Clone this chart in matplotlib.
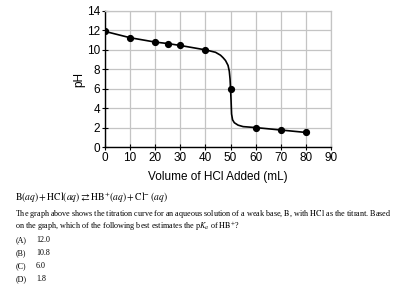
import matplotlib
matplotlib.use("Agg")
import matplotlib.pyplot as plt

# Measured data points
volume_ml = [0, 10, 20, 25, 30, 40, 50, 60, 70, 80]
ph_values = [11.9, 11.25, 10.8, 10.65, 10.45, 10.0, 6.0, 2.0, 1.75, 1.5]

# Titration curve
curve_ml = [0, 10, 20, 25, 30, 40, 44, 46, 47, 48, 49, 49.5, 49.8, 50, 50.2,
            50.4, 50.8, 51.5, 53, 55, 60, 70, 80]
curve_ph = [11.9, 11.25, 10.8, 10.65, 10.45, 10.0, 9.75, 9.45, 9.2, 8.9, 8.4,
            7.8, 7.0, 6.0, 4.8, 3.4, 2.8, 2.5, 2.25, 2.1, 2.0, 1.75, 1.5]

x_ticks = [0, 10, 20, 30, 40, 50, 60, 70, 80, 90]
y_ticks = [0, 2, 4, 6, 8, 10, 12, 14]

x_label = "Volume of HCl Added (mL)"
y_label = "pH"

equation = r"$\mathrm{B}(aq)+\mathrm{HCl}(aq)\rightleftarrows\mathrm{HB}^{+}(aq)+\mathrm{Cl}^{-}\,(aq)$"
question_1 = r"The graph above shows the titration curve for an aqueous solution of a weak base, $\mathrm{B}$, with $\mathrm{HCl}$ as the titrant. Based"
question_2 = r"on the graph, which of the following best estimates the $\mathrm{p}K_a$ of $\mathrm{HB}^{+}$?"
option_letters = ["(A)", "(B)", "(C)", "(D)"]
option_values = ["12.0", "10.8", "6.0", "1.8"]

plt.rcParams["mathtext.fontset"] = "stix"

fig = plt.figure(figsize=(4.0, 2.91), dpi=100)
ax = fig.add_axes([0.2625, 0.4948, 0.565, 0.4674])

grid_color = "#c4c4c4"
ax.plot(curve_ml, curve_ph, color="black", lw=1.2, zorder=3)
ax.plot(volume_ml, ph_values, "o", color="black", ms=4.2, zorder=4)

ax.set_xlim(0, 90)
ax.set_ylim(0, 14)
ax.set_xticks(x_ticks)
ax.set_yticks(y_ticks)
ax.grid(True, color=grid_color, lw=0.9)
ax.set_axisbelow(True)
for s in ["top", "right"]:
    ax.spines[s].set_color(grid_color)
    ax.spines[s].set_linewidth(0.9)
for s in ["left", "bottom"]:
    ax.spines[s].set_color("black")
    ax.spines[s].set_linewidth(1.0)
ax.tick_params(direction="inout", length=5, width=0.8, color="black",
               labelsize=8.5, pad=1)
for lab in ax.get_xticklabels() + ax.get_yticklabels():
    lab.set_fontfamily("Liberation Sans")
ax.set_xlabel(x_label, fontfamily="Liberation Sans", fontsize=8.5, labelpad=5)
ax.set_ylabel(y_label, fontfamily="Liberation Sans", fontsize=8.5, labelpad=1)

serif = "Liberation Serif"
def fy(py):
    return 1 - py / 291.0

fig.text(15 / 400, fy(198), equation, fontsize=6.9, family=serif, va="center")
fig.text(15 / 400, fy(214.5), question_1, fontsize=5.9, family=serif, va="center")
fig.text(15 / 400, fy(226), question_2, fontsize=5.9, family=serif, va="center")
for i, (l, v) in enumerate(zip(option_letters, option_values)):
    y = fy(240 + i * 13)
    fig.text(16 / 400, y, l, fontsize=5.8, family=serif, va="center")
    fig.text(36 / 400, y, v, fontsize=5.8, family=serif, va="center")

fig.savefig("out.png", dpi=100)
